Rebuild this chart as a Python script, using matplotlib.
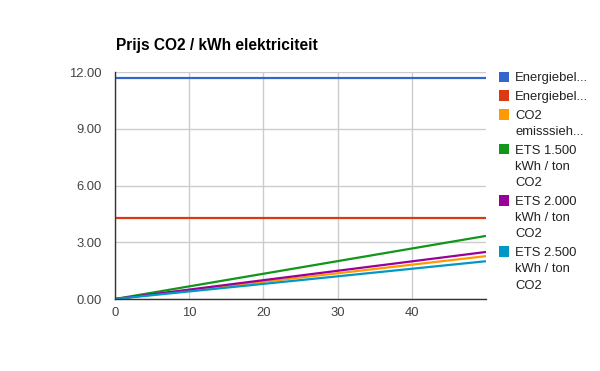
import matplotlib
matplotlib.use("Agg")
import matplotlib.pyplot as plt
from matplotlib.patches import Rectangle

plt.rcParams['font.family'] = ['Liberation Sans', 'DejaVu Sans']

title = "Prijs CO2 / kWh elektriciteit"
x_points = [0, 50]
series_labels = [
    "Energiebel...",
    "Energiebel...",
    "CO2\nemisssieh...",
    "ETS 1.500\nkWh / ton\nCO2",
    "ETS 2.000\nkWh / ton\nCO2",
    "ETS 2.500\nkWh / ton\nCO2",
]
energiebel_1 = [11.68, 11.68]
energiebel_2 = [4.28, 4.28]
co2_emissie = [0.0, 2.27]
ets_1500 = [0.0, 3.34]
ets_2000 = [0.0, 2.49]
ets_2500 = [0.0, 2.0]
series_values = [energiebel_1, energiebel_2, co2_emissie, ets_1500, ets_2000, ets_2500]
colors = ["#3366cc", "#dc3912", "#ff9900", "#109618", "#990099", "#0099c6"]
y_ticks = [0, 3, 6, 9, 12]
y_tick_labels = ["0.00", "3.00", "6.00", "9.00", "12.00"]
x_ticks = [0, 10, 20, 30, 40]

W, H = 600, 371
fig = plt.figure(figsize=(W / 100, H / 100), dpi=100)
ax = fig.add_axes([115 / W, 1 - 299 / H, (486 - 115) / W, (299 - 72.3) / H])

for vals, c in zip(series_values, colors):
    ax.plot(x_points, vals, color=c, lw=1.6, solid_capstyle='butt', zorder=3)

ax.set_xlim(0, 50)
ax.set_ylim(0, 12)
ax.set_yticks(y_ticks)
ax.set_yticklabels(y_tick_labels)
ax.set_xticks(x_ticks)
ax.grid(True, color="#cccccc", lw=1)
ax.set_axisbelow(True)
for s in ["top", "right"]:
    ax.spines[s].set_visible(False)
for s in ["left", "bottom"]:
    ax.spines[s].set_color("#333333")
    ax.spines[s].set_linewidth(1)
    ax.spines[s].set_zorder(4)
ax.tick_params(axis='both', length=0, labelsize=9.4, labelcolor="#444444")
ax.tick_params(axis='y', pad=9.5)
ax.tick_params(axis='x', pad=6)

fig.text(116 / W, 1 - 50 / H, title, fontsize=11.2, fontweight='bold',
         color="#000000", ha='left', va='baseline')

# legend on the right
line_h = 16.3
gap = 2.3
y_cur = 77.0
for lab, c in zip(series_labels, colors):
    fig.patches.append(Rectangle((498.5 / W, 1 - (y_cur + 5.3) / H), 10.7 / W, 10.7 / H,
                                 transform=fig.transFigure, color=c, lw=0))
    lines = lab.split("\n")
    for i, ln in enumerate(lines):
        fig.text(515 / W, 1 - (y_cur + i * line_h) / H, ln, fontsize=9.4,
                 color="#222222", ha='left', va='center_baseline')
    y_cur += len(lines) * line_h + gap

fig.savefig("out.png", dpi=100)
